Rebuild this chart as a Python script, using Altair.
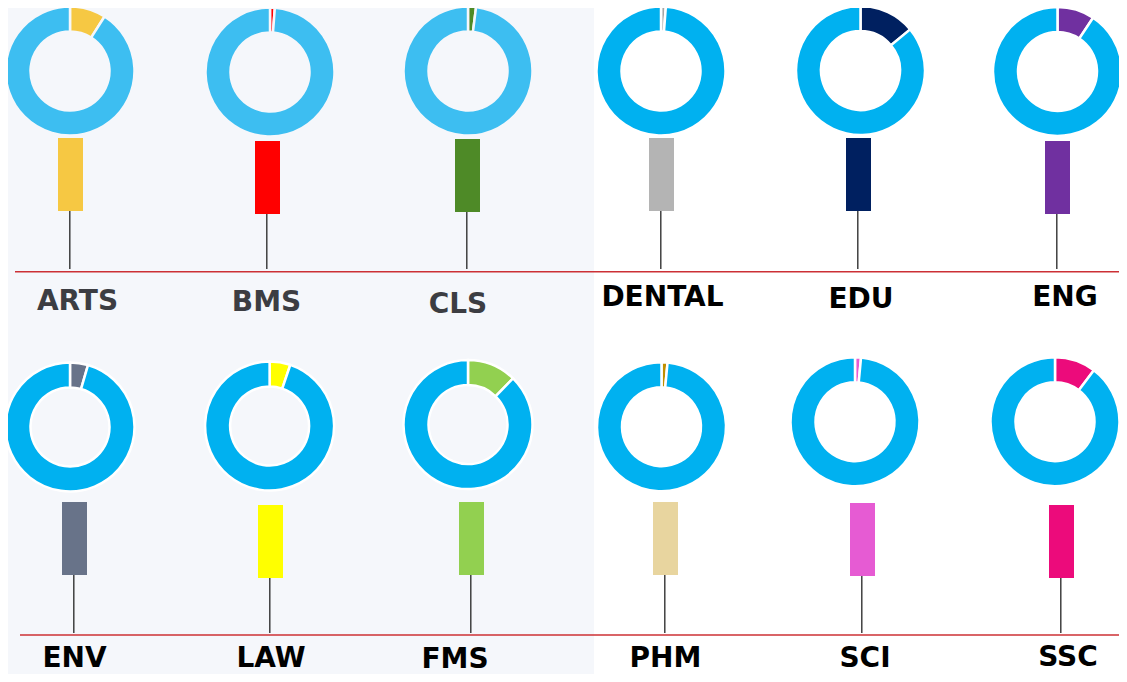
import altair as alt
import pandas as pd

# ---- data ----
categories = ["ARTS", "BMS", "CLS", "DENTAL", "EDU", "ENG",
              "ENV", "LAW", "FMS", "PHM", "SCI", "SSC"]
shares = [0.09, 0.012, 0.02, 0.012, 0.14, 0.093,
          0.045, 0.052, 0.123, 0.015, 0.015, 0.103]
slice_colors = ["#f6c843", "#ff0000", "#4e8a27", "#a6a6a6", "#002060", "#7030a0",
                "#687389", "#ffff00", "#92d050", "#bf8f00", "#e65bd3", "#ec0b7b"]
bar_colors = ["#f6c843", "#ff0000", "#4e8a27", "#b4b4b4", "#002060", "#7030a0",
              "#687389", "#ffff00", "#92d050", "#e8d59f", "#e65bd3", "#ec0b7b"]

# ---- layout (page pixel coordinates) ----
W, H = 1111, 666
donut_cx = [70, 270, 468, 661, 860.5, 1057.5, 70, 269.6, 468, 661.5, 855, 1055]
donut_cy = [71, 72, 71, 71, 70.5, 71.5, 427, 426, 424.6, 426.7, 421.7, 421.7]
rest_blue = ["#3dbef1"] * 3 + ["#00b1f0"] * 9
ring_stroke = ["#f5f7fb"] * 3 + ["#ffffff"] * 9
bar_cx = [70.5, 267.5, 467.5, 661.5, 858.5, 1057.5, 74.5, 270.5, 471.5, 665.5, 862.5, 1061.5]
bar_top = [138, 141, 139, 138, 138, 141, 502, 505, 502, 502, 503, 505]
bar_w, bar_h = 25, 73
stem_bottom = [269] * 6 + [633] * 6
label_cx = [77.5, 266.5, 458, 662.5, 861, 1065, 74.5, 271, 455, 665.5, 865, 1068]
label_base = [310, 311, 313, 306, 308, 306, 667, 666.5, 668, 666.5, 667, 665.5]
label_color = ["#3c3d42"] * 3 + ["#000000"] * 9

slices = []
for i, c in enumerate(categories):
    slices.append(dict(cat=c, start=0.0, end=shares[i], fill=slice_colors[i],
                       stroke=ring_stroke[i], cx=donut_cx[i], cy=donut_cy[i]))
    slices.append(dict(cat=c, start=shares[i], end=1.0, fill=rest_blue[i],
                       stroke=ring_stroke[i], cx=donut_cx[i], cy=donut_cy[i]))
slices = pd.DataFrame(slices)

items = pd.DataFrame(dict(
    cat=categories, bar_color=bar_colors,
    bx=bar_cx, bx0=[b - bar_w / 2 for b in bar_cx], bx1=[b + bar_w / 2 for b in bar_cx],
    by0=bar_top, by1=[t + bar_h for t in bar_top],
    sx=[b - 0.7 for b in bar_cx], sy1=stem_bottom,
    lx=label_cx, ly=label_base, lcolor=label_color,
))

baselines = pd.DataFrame(dict(x0=[15, 20], x1=[1127, 1127], y=[271.7, 635]))

xs = alt.Scale(domain=[8, 8 + W], nice=False, zero=False)
ys = alt.Scale(domain=[8, 8 + H], nice=False, zero=False, reverse=True)

bg = alt.Chart(pd.DataFrame({"a": [0]})).mark_rect(color="#f5f7fb").encode(
    x=alt.value(0), x2=alt.value(594 - 8), y=alt.value(0), y2=alt.value(H)
)

donuts = alt.Chart(slices).mark_arc(innerRadius=39.5, outerRadius=64.5, strokeWidth=2.5).encode(
    x=alt.X("cx:Q", scale=xs, axis=None),
    y=alt.Y("cy:Q", scale=ys, axis=None),
    theta=alt.Theta("start:Q", stack=None, scale=alt.Scale(domain=[0, 1], range=[0, 6.283185307])),
    theta2="end:Q",
    color=alt.Color("fill:N", scale=None),
    stroke=alt.Stroke("stroke:N", scale=None),
)

stems = alt.Chart(items).mark_rule(strokeWidth=1.4, color="#333333").encode(
    x=alt.X("sx:Q", scale=xs, axis=None),
    y=alt.Y("by1:Q", scale=ys, axis=None),
    y2="sy1:Q",
)

bars = alt.Chart(items).mark_rect().encode(
    x=alt.X("bx0:Q", scale=xs, axis=None),
    x2="bx1:Q",
    y=alt.Y("by0:Q", scale=ys, axis=None),
    y2="by1:Q",
    color=alt.Color("bar_color:N", scale=None),
)

redlines = alt.Chart(baselines).mark_rule(strokeWidth=1.4, color="#cc3035").encode(
    x=alt.X("x0:Q", scale=xs, axis=None),
    x2="x1:Q",
    y=alt.Y("y:Q", scale=ys, axis=None),
)

labels = alt.Chart(items).mark_text(
    font="DejaVu Sans", fontWeight="bold", fontSize=28, align="center", baseline="alphabetic"
).encode(
    x=alt.X("lx:Q", scale=xs, axis=None),
    y=alt.Y("ly:Q", scale=ys, axis=None),
    text="cat:N",
    color=alt.Color("lcolor:N", scale=None),
)

chart = alt.layer(bg, donuts, stems, bars, redlines, labels).properties(
    width=W, height=H, padding=0, autosize=alt.AutoSizeParams(type="none"),
    background="#ffffff",
).configure_view(stroke=None)

chart.save("out.html", embed_options={"renderer": "svg", "actions": False})
